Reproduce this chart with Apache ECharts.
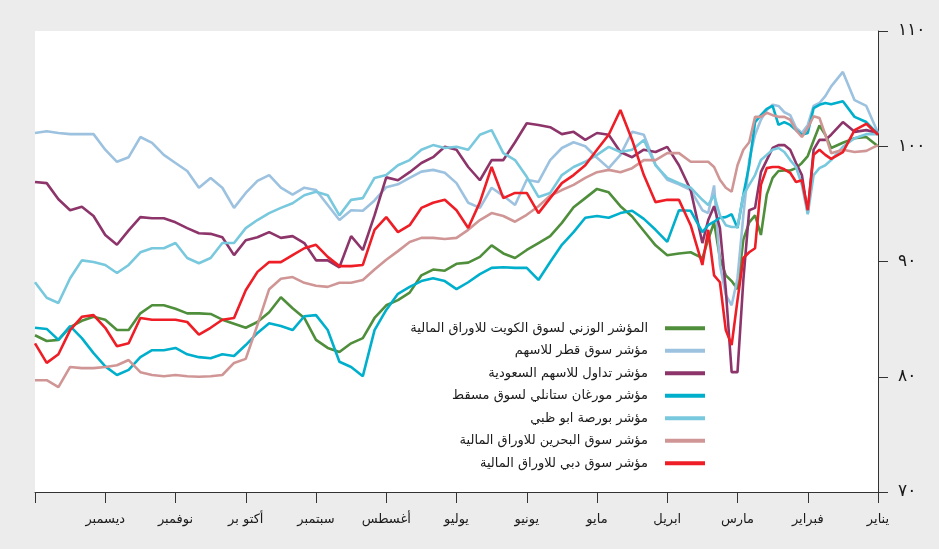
<!DOCTYPE html>
<html>
<head>
<meta charset="utf-8">
<script src="https://cdn.jsdelivr.net/npm/echarts@6/dist/echarts.min.js"></script>
<style>
html,body{margin:0;padding:0;background:#ececec;}
#chart{width:939px;height:549px;}
</style>
</head>
<body>
<div id="chart"></div>
<script>
// x positions in twelfths of a month from 1 January (0) to 31 December (144)
var xPos = [0,2,4,6,8,9,10,11,12,13,14,15,16,17,18,19,20,21,22,23,24,25,26,27,28,29,30,
  32,34,36,38,40,42,44,46,48,50,52,54,56,58,60,62,64,66,68,70,72,74,76,78,80,82,84,86,88,90,
  92,94,96,98,100,102,104,106,108,110,112,114,116,118,120,122,124,126,128,130,132,134,136,138,140,142,144];

var monthLabels = ['يناير','فبراير','مارس','ابريل','مايو','يونيو','يوليو','أغسطس','سبتمبر','أكتو بر','نوفمبر','ديسمبر',''];
var yTickLabels = ['٧٠','٨٠','٩٠','١٠٠','١١٠'];

var seriesNames = [
  'المؤشر الوزني لسوق الكويت للاوراق المالية',
  'مؤشر سوق قطر للاسهم',
  'مؤشر تداول للاسهم السعودية',
  'مؤشر مورغان ستانلي لسوق مسقط',
  'مؤشر بورصة ابو ظبي',
  'مؤشر سوق البحرين للاوراق المالية',
  'مؤشر سوق دبي للاوراق المالية'
];

var kuwait = [100.0,100.8,100.7,100.3,99.85,
  101.0,101.8,100.5,99.15,98.55,98.1,97.9,97.9,97.85,97.25,95.8,92.3,94.0,93.4,91.9,87.6,88.3,88.8,90.3,93.4,91.9,90.3,
  90.8,90.7,90.55,91.4,92.65,93.9,94.8,96.0,96.3,95.5,94.7,93.35,92.2,91.6,91.0,90.3,90.7,91.4,90.4,89.9,89.8,89.2,89.3,88.8,
  87.3,86.65,86.2,85.1,83.35,82.9,82.15,82.5,83.2,85.1,85.95,86.9,85.6,84.75,84.25,84.6,84.95,85.45,85.5,85.5,85.9,86.2,86.2,
  85.5,84.05,84.05,84.95,85.2,84.85,84.3,83.2,83.1,83.6];

var qatar = [101.15,103.5,104.0,106.45,105.2,
  104.35,103.75,103.5,101.85,101.15,101.6,102.7,102.95,103.5,103.6,103.15,102.3,101.0,98.8,94.0,88.55,86.2,87.1,89.7,96.6,94.2,94.45,
  96.2,96.7,97.1,98.4,101.0,101.25,99.25,98.1,99.0,100.0,100.35,99.85,98.8,96.9,97.1,94.9,95.7,96.4,94.65,95.1,96.8,97.7,97.95,97.8,
  97.25,96.7,96.45,95.3,94.4,94.45,93.6,94.9,96.2,96.4,95.8,96.4,97.5,97.0,95.95,94.65,96.4,97.25,96.4,97.85,98.55,99.25,100.3,
  100.8,99.05,98.65,99.7,101.05,101.05,101.05,101.15,101.3,101.15];

var saudi = [101.15,101.4,101.25,102.1,101.0,
  100.55,100.55,99.7,94.2,97.5,98.55,99.7,100.1,100.1,99.85,98.8,97.75,94.65,94.45,88.4,80.4,80.4,87.55,92.9,94.8,93.6,91.6,
  96.2,98.35,99.95,99.5,99.7,99.05,99.5,101.0,101.15,100.55,101.25,101.05,101.65,101.85,102.0,100.35,98.8,98.8,97.05,98.2,99.7,99.95,99.05,98.55,
  97.75,97.05,97.3,94.0,91.0,92.2,89.5,90.1,90.1,91.6,92.2,92.05,92.55,92.1,91.85,90.55,92.1,92.4,92.45,92.9,93.4,93.75,93.75,
  93.85,92.7,91.45,92.3,93.95,94.75,94.45,95.4,96.8,96.9];

var muscat = [101.05,102.1,102.55,103.9,103.65,
  103.75,103.6,103.3,101.15,101.0,101.4,101.85,102.1,101.85,103.5,103.25,102.7,102.1,98.35,95.8,92.9,94.1,93.85,93.8,93.45,93.15,92.55,
  94.4,94.45,91.7,92.75,93.7,94.4,94.2,93.8,93.95,93.8,92.55,91.45,89.95,88.4,89.45,89.45,89.5,89.45,88.9,88.2,87.6,88.3,88.55,88.3,
  87.8,87.2,85.8,84.05,80.05,80.85,81.3,84.05,85.35,85.25,84.05,84.4,84.65,83.8,82.75,81.8,81.95,81.6,81.7,81.95,82.5,82.3,82.3,
  81.7,80.6,80.15,80.9,82.05,83.35,84.4,83.2,84.15,84.25];

var abuDhabi = [101.05,101.05,100.7,99.95,98.8,
  98.35,98.1,97.5,94.1,96.65,98.2,98.8,99.5,99.85,99.7,99.25,98.8,97.5,96.65,95.75,93.0,93.0,93.15,94.0,95.75,94.9,95.35,
  96.4,96.8,97.25,98.35,100.55,99.7,99.5,99.95,99.25,98.65,98.2,97.5,95.95,95.6,97.35,98.8,99.4,101.4,101.0,99.7,99.95,99.85,100.1,99.7,
  98.8,98.35,97.5,97.25,95.5,95.35,94.0,95.75,96.05,95.75,95.05,94.65,94.2,93.6,92.9,91.6,91.6,90.3,89.85,90.3,91.6,91.15,91.15,
  90.8,89.7,89.0,89.7,89.95,90.1,88.55,86.4,86.85,88.2];

var bahrain = [100.1,99.6,99.5,99.7,99.4,
  101.0,102.45,102.6,101.6,100.8,101.4,102.3,102.55,102.55,102.7,102.9,102.55,102.55,100.35,99.7,98.35,96.05,96.4,97.1,98.2,98.65,98.65,
  98.65,99.4,99.4,98.8,98.8,98.1,97.75,97.95,97.75,97.25,96.65,96.2,95.7,94.8,94.05,93.45,93.95,94.2,93.6,92.75,92.05,91.95,92.05,92.05,
  91.7,90.9,90.15,89.3,88.4,88.15,88.15,87.8,87.9,88.15,88.65,88.5,87.6,84.5,81.55,81.2,80.15,80.05,80.0,80.05,80.15,80.05,80.15,
  80.4,81.45,81.0,80.85,80.75,80.75,80.85,79.1,79.7,79.7];

var dubai = [101.0,101.95,101.4,99.5,98.9,
  99.25,99.7,99.25,94.45,97.05,96.9,97.7,98.0,98.2,98.2,98.1,96.65,91.15,90.8,90.3,86.65,82.75,84.05,88.2,88.8,92.75,89.7,
  93.15,95.35,95.35,95.15,97.5,100.55,103.15,101.0,99.7,98.35,97.5,96.8,95.5,94.2,95.95,95.95,95.5,98.2,95.15,92.9,94.45,95.35,95.1,94.65,
  93.15,92.55,93.85,92.75,89.7,89.6,89.6,90.4,91.45,91.15,90.55,89.95,89.95,89.1,87.5,85.1,84.95,84.25,83.65,84.75,84.95,84.95,84.95,
  85.1,82.9,82.65,84.25,85.35,85.2,84.05,81.95,81.2,82.9];

var seriesValues = [kuwait, qatar, saudi, muscat, abuDhabi, bahrain, dubai];
var colors = ['#4f8e3b','#9cc2e0','#8d356a','#00afcc','#78c8de','#d09696','#ee1d26'];

function pairs(vals){ return xPos.map(function(x,i){ return [x, vals[i]]; }); }

var chart = echarts.init(document.getElementById('chart'), null, {renderer:'canvas'});
chart.setOption({
  animation: false,
  backgroundColor: '#ececec',
  color: colors,
  grid: {left:35, right:61, top:31, bottom:57, show:true, backgroundColor:'#ffffff', borderWidth:0},
  legend: {
    orient: 'vertical', align: 'right', right: 234, top: 317, padding: 0,
    itemWidth: 40, itemHeight: 4, itemGap: 0, icon: 'rect',
    textStyle: {fontFamily:'DejaVu Sans', fontSize:13, color:'#1a1a1a', lineHeight:22.5, padding:[0,12,0,0]},
    data: seriesNames
  },
  xAxis: {
    type: 'value', min: 0, max: 144, interval: 12, inverse: true,
    axisLine: {show:true, lineStyle:{color:'#333', width:1}},
    axisTick: {show:true, length:11, lineStyle:{color:'#333'}},
    splitLine: {show:false},
    axisLabel: {margin:21, fontSize:13, color:'#1a1a1a', fontFamily:'DejaVu Sans',
      formatter: function(v){ return monthLabels[Math.round(v/12)] || ''; }}
  },
  yAxis: {
    type: 'value', min: 70, max: 110, interval: 10, position: 'right',
    axisLine: {show:true, lineStyle:{color:'#333', width:1}},
    axisTick: {show:true, length:10, lineStyle:{color:'#333'}},
    splitLine: {show:false},
    axisLabel: {margin:20, fontSize:17, color:'#1a1a1a', fontFamily:'DejaVu Sans',
      formatter: function(v){ return yTickLabels[Math.round((v-70)/10)]; }}
  },
  series: seriesNames.map(function(name, i){
    return {
      name: name, type: 'line', data: pairs(seriesValues[i]),
      showSymbol: false, symbol: 'none',
      lineStyle: {width: 2.6, color: colors[i]},
      itemStyle: {color: colors[i]}
    };
  })
});
</script>
</body>
</html>
